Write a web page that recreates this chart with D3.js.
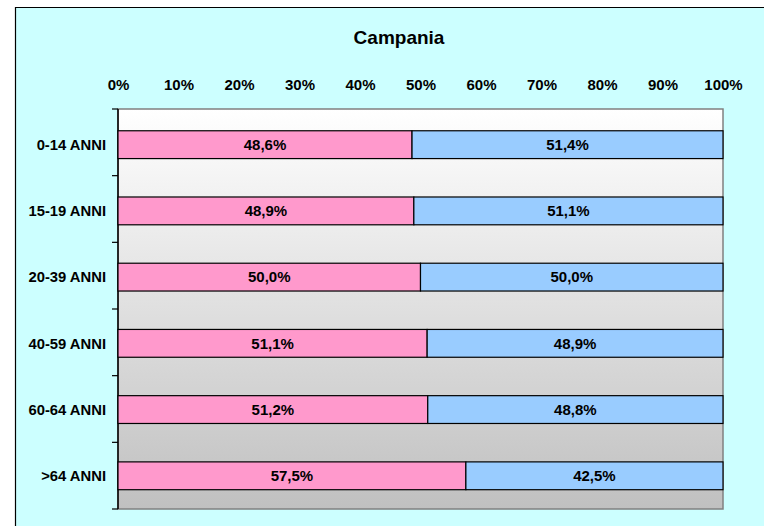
<!DOCTYPE html>
<html>
<head>
<meta charset="utf-8">
<script src="https://cdn.jsdelivr.net/npm/d3@7"></script>
<style>
  html, body { margin: 0; padding: 0; background: #fff; overflow: hidden; }
  svg { display: block; }
  text { font-family: Arial, "Liberation Sans", sans-serif; font-weight: bold; fill: #000; }
</style>
</head>
<body>
<script>
// age groups and the two shares (percent) per group
var categories = ["0-14 ANNI", "15-19 ANNI", "20-39 ANNI", "40-59 ANNI", "60-64 ANNI", ">64 ANNI"];
var femmine = [48.6, 48.9, 50.0, 51.1, 51.2, 57.5];
var maschi  = [51.4, 51.1, 50.0, 48.9, 48.8, 42.5];
var xTicks  = [0, 10, 20, 30, 40, 50, 60, 70, 80, 90, 100];
var title = "Campania";

var W = 764, H = 526;
var margin = {left: 118, right: 41, top: 109, bottom: 17};
var width = W - margin.left - margin.right;
var height = H - margin.top - margin.bottom;

var data = categories.map(function(c, i) {
  return {cat: c, f: femmine[i], m: maschi[i]};
});

var svg = d3.select("body").append("svg").attr("width", W).attr("height", H);

// chart background; only left and top edges of the frame are in view
svg.append("rect")
  .attr("x", 15).attr("y", 7)
  .attr("width", W - 15).attr("height", H - 7)
  .attr("fill", "#CCFFFF");
svg.append("path")
  .attr("d", "M15.5," + H + "V7.5H" + W)
  .attr("fill", "none").attr("stroke", "#000").attr("stroke-width", 1.2);

var grad = svg.append("defs").append("linearGradient")
  .attr("id", "bg").attr("x1", 0).attr("y1", 0).attr("x2", 0).attr("y2", 1);
grad.append("stop").attr("offset", "0%").attr("stop-color", "#FFFFFF");
grad.append("stop").attr("offset", "100%").attr("stop-color", "#C0C0C0");

svg.append("text")
  .attr("x", 399).attr("y", 44)
  .attr("text-anchor", "middle")
  .style("font-size", "19px")
  .text(title);

var x = d3.scaleLinear().domain([0, 100]).range([0, width]);
var y = d3.scaleBand().domain(categories).range([0, height]).paddingInner(0.58).paddingOuter(0.31).align(0.53);

var g = svg.append("g").attr("transform", "translate(" + margin.left + "," + margin.top + ")");

g.append("rect")
  .attr("width", width).attr("height", height)
  .attr("fill", "url(#bg)").attr("stroke", "#808080").attr("stroke-width", 1.5);

// top axis: labels only
var xAxis = g.append("g")
  .call(d3.axisTop(x).tickValues(xTicks).tickSize(0).tickPadding(19).tickFormat(function(d) { return d + "%"; }));
xAxis.select(".domain").remove();
xAxis.selectAll("text").style("font-size", "15px").attr("font-family", null);

// left axis: ticks on band boundaries
var step = height / categories.length;
var yEdges = d3.range(categories.length + 1).map(function(i) { return i * step; });
g.append("g").selectAll("line")
  .data(yEdges).enter().append("line")
  .attr("x1", -6).attr("x2", 0)
  .attr("y1", function(d) { return d; }).attr("y2", function(d) { return d; })
  .attr("stroke", "#000").attr("stroke-width", 1.2);
g.append("line")
  .attr("x1", 0).attr("x2", 0).attr("y1", 0).attr("y2", height)
  .attr("stroke", "#000").attr("stroke-width", 1.5);

g.append("g").selectAll("text")
  .data(categories).enter().append("text")
  .attr("x", -12)
  .attr("y", function(d) { return y(d) + y.bandwidth() / 2; })
  .attr("dy", "0.35em")
  .attr("text-anchor", "end")
  .style("font-size", "14.8px")
  .text(function(d) { return d; });

var fmt = function(v) { return v.toFixed(1).replace(".", ",") + "%"; };

var rows = g.selectAll("g.row").data(data).enter().append("g").attr("class", "row");

rows.append("rect")
  .attr("x", 0)
  .attr("y", function(d) { return y(d.cat); })
  .attr("width", function(d) { return x(d.f); })
  .attr("height", y.bandwidth())
  .attr("fill", "#FF99CC").attr("stroke", "#000").attr("stroke-width", 1.2);

rows.append("rect")
  .attr("x", function(d) { return x(d.f); })
  .attr("y", function(d) { return y(d.cat); })
  .attr("width", function(d) { return x(d.f + d.m) - x(d.f); })
  .attr("height", y.bandwidth())
  .attr("fill", "#99CCFF").attr("stroke", "#000").attr("stroke-width", 1.2);

rows.append("text")
  .attr("x", function(d) { return x(d.f / 2); })
  .attr("y", function(d) { return y(d.cat) + y.bandwidth() / 2; })
  .attr("dy", "0.35em").attr("text-anchor", "middle")
  .style("font-size", "15px")
  .text(function(d) { return fmt(d.f); });

rows.append("text")
  .attr("x", function(d) { return x(d.f + d.m / 2); })
  .attr("y", function(d) { return y(d.cat) + y.bandwidth() / 2; })
  .attr("dy", "0.35em").attr("text-anchor", "middle")
  .style("font-size", "15px")
  .text(function(d) { return fmt(d.m); });
</script>
</body>
</html>
